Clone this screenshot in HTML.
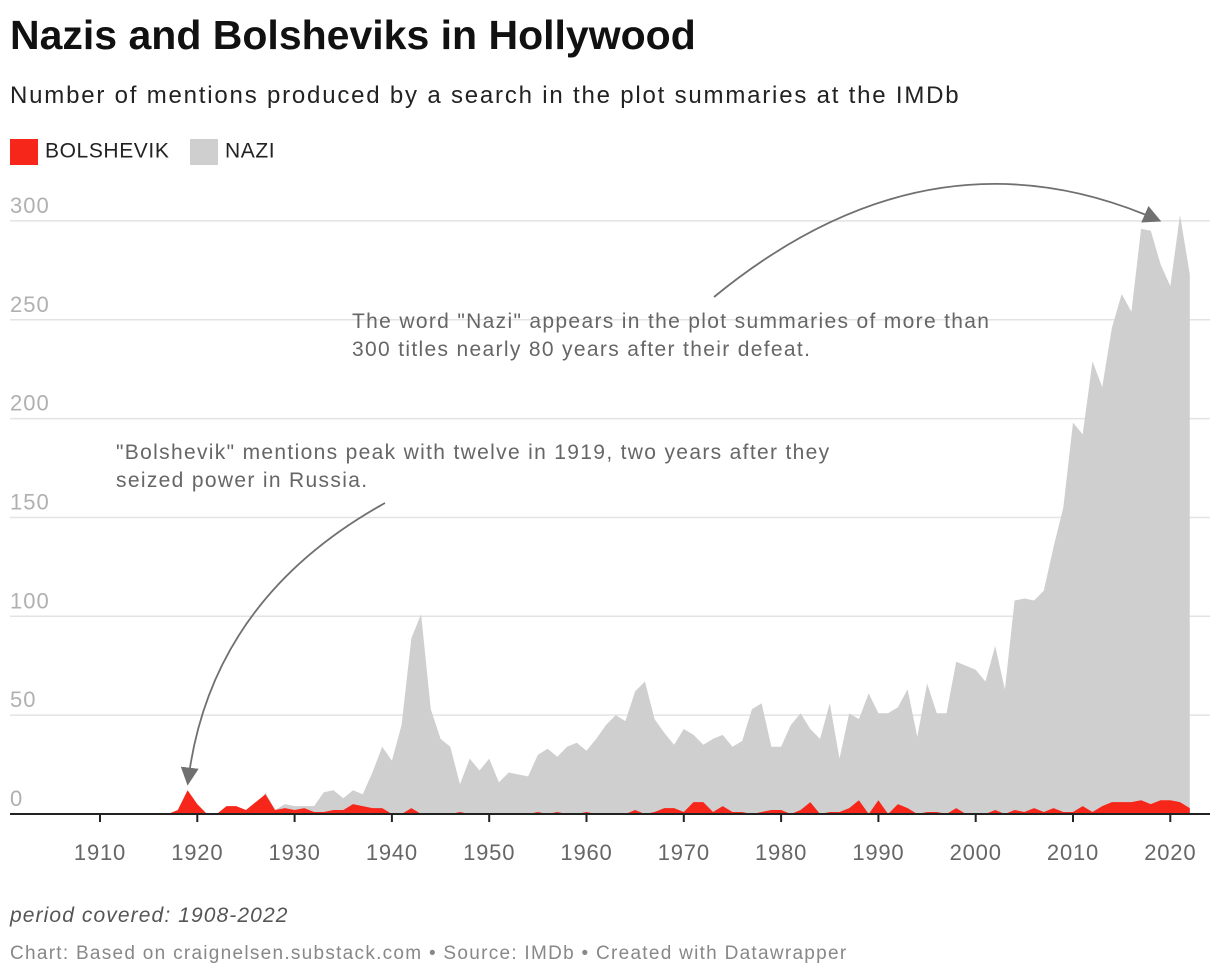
<!DOCTYPE html>
<html><head><meta charset="utf-8">
<style>
body{margin:0;background:#fff;font-family:"Liberation Sans",Arial,sans-serif;}
#wrap{position:relative;width:1220px;height:978px;overflow:hidden;}
.t{position:absolute;white-space:nowrap;}
</style></head>
<body>
<div id="wrap">
<div class="t" style="left:10px;top:12px;font-size:41px;font-weight:bold;color:#111;">Nazis and Bolsheviks in Hollywood</div>
<div class="t" style="left:10px;top:82px;font-size:24px;letter-spacing:1.8px;color:#222;">Number of mentions produced by a search in the plot summaries at the IMDb</div>
<div class="t" style="left:10px;top:139px;font-size:21px;letter-spacing:0.6px;color:#222;"><span style="display:inline-block;width:28px;height:26px;background:#f6261a;vertical-align:middle;margin-right:7px;"></span>BOLSHEVIK</div>
<div class="t" style="left:190px;top:139px;font-size:21px;letter-spacing:0.6px;color:#222;"><span style="display:inline-block;width:28px;height:26px;background:#cfcfcf;vertical-align:middle;margin-right:7px;"></span>NAZI</div>
<svg id="chart" width="1220" height="978" style="position:absolute;left:0;top:0;">
<defs><marker id="ah" markerWidth="10" markerHeight="10" refX="8" refY="5" orient="auto"><path d="M0,0 L10,5 L0,10 Z" fill="#707070"/></marker></defs>
</svg>
<div class="t" style="left:10px;top:904px;font-size:21px;letter-spacing:1.1px;font-style:italic;color:#555;">period covered: 1908-2022</div>
<div class="t" style="left:10px;top:943px;font-size:19px;letter-spacing:1.28px;color:#888;">Chart: Based on craignelsen.substack.com • Source: IMDb • Created with Datawrapper</div>
</div>
<script>
const years=[];for(let y=1908;y<=2022;y++)years.push(y);
const nazi=[0,0,0,0,0,0,0,0,0,0,0,0,0,0,0,0,0,0,0,11,2,5,4,4,4,11,12,8,12,10,21,34,27,45,89,101,53,38,34,15,28,22,28,16,21,20,19,30,33,29,34,36,32,38,45,50,47,62,67,48,41,35,43,40,35,38,40,34,37,53,56,34,34,45,51,43,38,56,28,51,48,61,51,51,54,63,39,66,51,51,77,75,73,67,85,63,108,109,108,113,135,155,198,192,229,216,246,263,254,296,295,278,267,303,273];
const bolshevik=[0,0,0,0,0,0,0,0,0,0,2,12,5,0,0,4,4,2,6,10,2,3,2,3,1,1,2,2,5,4,3,3,0,0,3,0,0,0,0,1,0,0,0,0,0,0,0,1,0,1,0,0,1,0,0,0,0,2,0,1,3,3,1,6,6,1,4,1,1,0,1,2,2,0,2,6,0,1,1,3,7,0,7,0,5,3,0,1,1,0,3,0,0,0,2,0,2,1,3,1,3,1,1,4,1,4,6,6,6,7,5,7,7,6,3];
const yTicks=[0,50,100,150,200,250,300];
const xTicks=[1910,1920,1930,1940,1950,1960,1970,1980,1990,2000,2010,2020];
const svg=document.getElementById('chart');const NS='http://www.w3.org/2000/svg';
const X=y=>100+(y-1910)*9.73;const Y=v=>814-v*1.977;
function mk(t,a){const e=document.createElementNS(NS,t);for(const k in a)e.setAttribute(k,a[k]);svg.appendChild(e);return e;}
yTicks.forEach(v=>{
 const l=mk('line',{x1:10,x2:1210,y1:Y(v),y2:Y(v),stroke:'#e3e3e3','stroke-width':1.5});
 
 
 const t=mk('text',{x:10,y:Y(v)-8,'font-size':22,'letter-spacing':1,fill:'#b0b0b0','font-family':'Liberation Sans, sans-serif'});t.textContent=v;
 
 
});
function area(vals,fill,name){let d='M'+X(years[0])+','+Y(0);vals.forEach((v,i)=>d+=' L'+X(years[i]).toFixed(1)+','+Y(v).toFixed(1));d+=' L'+X(years[years.length-1])+','+Y(0)+' Z';
 const p=mk('path',{d:d,fill:fill});
 
 }
area(nazi,'#cfcfcf','nazi-area');
area(bolshevik,'#f6261a','bolshevik-area');
const ax=mk('line',{x1:10,x2:1210,y1:814,y2:814,stroke:'#222','stroke-width':2});


xTicks.forEach(y=>{
 const l=mk('line',{x1:X(y),x2:X(y),y1:814,y2:822,stroke:'#222','stroke-width':2});
 
 
 const t=mk('text',{x:X(y),y:860,'font-size':22,'letter-spacing':0.8,fill:'#666','text-anchor':'middle','font-family':'Liberation Sans, sans-serif'});t.textContent=y;
 
 
});
const a1=mk('path',{d:'M714,297 Q930,120 1158,220',fill:'none',stroke:'#707070','stroke-width':1.8,'marker-end':'url(#ah)'});


const a2=mk('path',{d:'M385,503 Q210,600 188,782',fill:'none',stroke:'#707070','stroke-width':1.8,'marker-end':'url(#ah)'});


function note(lines,x,y,name){const t=mk('text',{x:x,y:y,'font-size':21,'letter-spacing':1.33,fill:'#666','font-family':'Liberation Sans, sans-serif'});
 
 
 lines.forEach((s,i)=>{const ts=document.createElementNS(NS,'tspan');ts.setAttribute('x',x);ts.setAttribute('dy',i?28:0);ts.textContent=s;t.appendChild(ts);});}
note(['The word "Nazi" appears in the plot summaries of more than','300 titles nearly 80 years after their defeat.'],352,328,'nazi-annotation');
note(['"Bolshevik" mentions peak with twelve in 1919, two years after they','seized power in Russia.'],116,459,'bolshevik-annotation');
</script>
</body></html>
